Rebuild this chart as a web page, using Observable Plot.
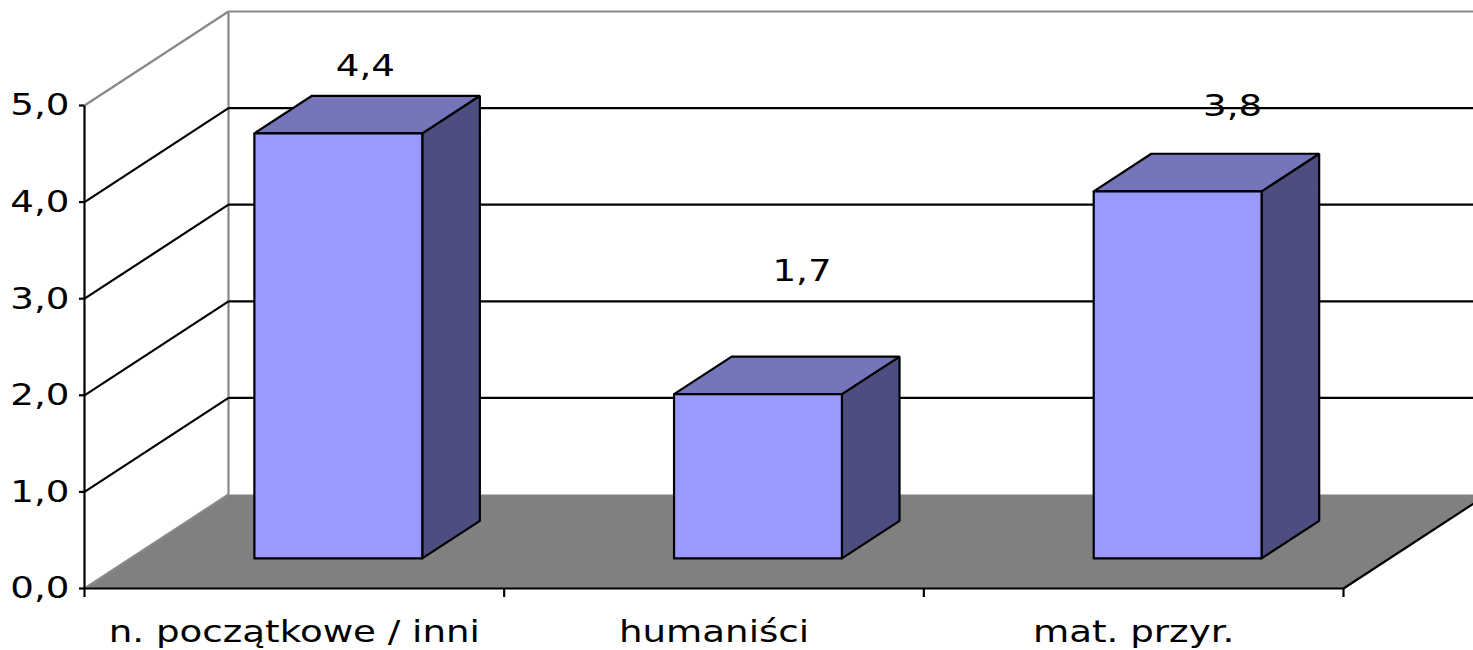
<!DOCTYPE html>
<html>
<head>
<meta charset="utf-8">
<script src="https://cdn.jsdelivr.net/npm/d3@7"></script>
<script src="https://cdn.jsdelivr.net/npm/@observablehq/plot@0.6"></script>
<style>
  html, body { margin: 0; padding: 0; background: white; }
</style>
</head>
<body>
<div id="chart"></div>
<script>
// ---- data ----
const categories = ["n. początkowe / inni", "humaniści", "mat. przyr."];
const values = [4.4, 1.7, 3.8];
const yTicks = [0, 1, 2, 3, 4, 5];
const gridValues = [1, 2, 3, 4];
// label nudges (px) relative to the bar top centre, as placed in the original
const labelNudgeX = [-1, 16, 27];
const labelNudgeY = [-50, -106, -68];

// ---- layout ----
const W = 1473, H = 650;
const mL = 84, mR = 130, mT = 105, mB = 62;
const DX = 144, DY = 94;              // depth vector in px
const nCat = categories.length;
const vMax = 5;
const pxPerU = (W - mL - mR) / nCat;
const pxPerV = (H - mT - mB) / vMax;
const dxU = DX / pxPerU, dyV = DY / pxPerV;
const P = (u, v, d) => ({x: u + d * dxU, y: v + d * dyV});

const barL = 0.295, barR = 0.695, depth0 = 0.32, depth1 = 0.72;

const frontFaces = [], topFaces = [], sideFaces = [];
values.forEach((v, i) => {
  const u0 = i + barL, u1 = i + barR;
  [[u0,0,depth0],[u1,0,depth0],[u1,v,depth0],[u0,v,depth0],[u0,0,depth0]]
    .forEach(p => frontFaces.push({id: i, ...P(...p)}));
  [[u0,v,depth0],[u1,v,depth0],[u1,v,depth1],[u0,v,depth1],[u0,v,depth0]]
    .forEach(p => topFaces.push({id: i, ...P(...p)}));
  [[u1,0,depth0],[u1,0,depth1],[u1,v,depth1],[u1,v,depth0],[u1,0,depth0]]
    .forEach(p => sideFaces.push({id: i, ...P(...p)}));
});

const floorPoly = [[0,0,0],[nCat,0,0],[nCat,0,1],[0,0,1]].map(p => ({id: 0, ...P(...p)}));

const seg = (a, b) => { const A = P(...a), B = P(...b); return {x1: A.x, y1: A.y, x2: B.x, y2: B.y}; };
const graySegs = [
  seg([0,0,1],[0,vMax,1]),
  seg([0,vMax,1],[nCat,vMax,1]),
  seg([0,vMax,0],[0,vMax,1]),
  seg([0,0,0],[0,0,1])
];
const blackSegs = [
  ...gridValues.map(v => seg([0,v,1],[nCat,v,1])),
  ...gridValues.map(v => seg([0,v,0],[0,v,1])),
  seg([0,0,0],[nCat,0,0]),
  seg([nCat,0,0],[nCat,0,1]),
  seg([0,0,0],[0,vMax,0])
];

const valueLabels = values.map((v, i) => {
  const c = P(i + 0.5, v, 0.5);
  return {
    x: c.x + labelNudgeX[i] / pxPerU,
    y: c.y - labelNudgeY[i] / pxPerV,
    text: v.toFixed(1).replace(".", ",")
  };
});

const fmt = d => d.toFixed(1).replace(".", ",");
const FS = 31;

const svg = Plot.plot({
  width: W, height: H,
  marginLeft: mL, marginRight: mR, marginTop: mT, marginBottom: mB,
  x: {domain: [0, nCat]},
  y: {domain: [0, vMax]},
  style: {fontFamily: "DejaVu Sans", fontSize: FS + "px", color: "black", background: "white"},
  marks: [
    Plot.line(floorPoly, {x: "x", y: "y", z: "id", fill: "#808080", stroke: "none"}),
    Plot.link(graySegs, {x1: "x1", y1: "y1", x2: "x2", y2: "y2", stroke: "#888888", strokeWidth: 2.2}),
    Plot.link(blackSegs, {x1: "x1", y1: "y1", x2: "x2", y2: "y2", stroke: "black", strokeWidth: 2.2}),
    Plot.line(sideFaces, {x: "x", y: "y", z: "id", fill: "#4d4d7f", stroke: "black", strokeWidth: 2.2, strokeLinejoin: "miter"}),
    Plot.line(topFaces, {x: "x", y: "y", z: "id", fill: "#7575bb", stroke: "black", strokeWidth: 2.2, strokeLinejoin: "miter"}),
    Plot.line(frontFaces, {x: "x", y: "y", z: "id", fill: "#9999ff", stroke: "black", strokeWidth: 2.2, strokeLinejoin: "miter"}),
    Plot.axisY(yTicks, {tickSize: 5, tickPadding: 10, tickFormat: fmt, fontSize: FS, strokeWidth: 2.2, label: null}),
    Plot.axisX(d3.range(nCat + 1), {tickSize: 9, tickFormat: () => "", strokeWidth: 2.2, label: null}),
    Plot.axisX(d3.range(nCat).map(i => i + 0.5), {tickSize: 0, tickPadding: 31, tickFormat: d => categories[Math.floor(d)], fontSize: FS, label: null}),
    Plot.text(valueLabels, {x: "x", y: "y", text: "text", fontSize: FS, fill: "black"})
  ]
});

// horizontally widen text to match the original's stretched font
d3.select(svg).selectAll("text").each(function() {
  const t = this.getAttribute("transform");
  if (t) this.setAttribute("transform", t + " scale(1.2,1)");
});

document.getElementById("chart").appendChild(svg);
</script>
</body>
</html>
